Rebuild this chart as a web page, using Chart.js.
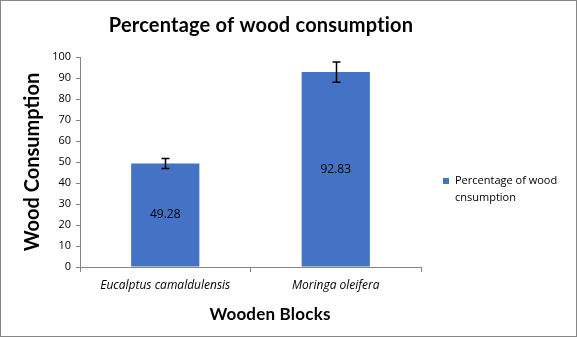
<!DOCTYPE html>
<html>
<head>
<meta charset="utf-8">
<script src="https://cdn.jsdelivr.net/npm/chart.js@4.4.1/dist/chart.umd.min.js"></script>
<style>
  html, body { margin: 0; padding: 0; background: #fff; }
  #wrap { width: 577px; height: 337px; }
</style>
</head>
<body>
<div id="wrap"><canvas id="ctx"></canvas></div>
<script>
// Data
const blocks = ['Eucalptus camaldulensis', 'Moringa oleifera'];
const consumption = [49.28, 92.83];
const errors = [2.4, 4.8];
const yTicks = [0, 10, 20, 30, 40, 50, 60, 70, 80, 90, 100];

const chartTitle = 'Percentage of wood consumption';
const xTitle = 'Wooden Blocks';
const yTitle = 'Wood Consumption';
const seriesName = ['Percentage of wood', 'cnsumption'];

const barColor = '#4472C4';
const axisColor = '#868686';
const smallFont = "'Open Sans'";
const boldFont = 'Lato';

// white background, border, title, axis title and legend
const extras = {
  id: 'extras',
  beforeDraw(chart) {
    const c = chart.ctx;
    c.save();
    c.fillStyle = '#fff';
    c.fillRect(0, 0, chart.width, chart.height);
    c.strokeStyle = axisColor;
    c.lineWidth = 1;
    c.strokeRect(0.5, 0.5, chart.width - 1, chart.height - 1);
    c.restore();
  },
  afterDraw(chart) {
    const c = chart.ctx;
    c.save();
    c.fillStyle = '#000';
    c.textAlign = 'center';
    c.textBaseline = 'middle';
    c.letterSpacing = '0.2px';
    c.font = 'bold 20px ' + boldFont;
    c.fillText(chartTitle, 261, 26);
    c.font = 'bold 17px ' + boldFont;
    c.fillText(xTitle, 270, 315);
    c.letterSpacing = '0px';

    // legend
    c.fillStyle = barColor;
    c.fillRect(443, 178, 6, 6);
    c.fillStyle = '#000';
    c.textAlign = 'left';
    c.font = '11px ' + smallFont;
    seriesName.forEach((t, i) => c.fillText(t, 455, 181 + i * 17));
    c.restore();
  }
};

// error bars and value labels on the bars
const barMarks = {
  id: 'barMarks',
  afterDatasetsDraw(chart) {
    const c = chart.ctx;
    const y = chart.scales.y;
    const meta = chart.getDatasetMeta(0);
    c.save();
    meta.data.forEach((bar, i) => {
      const v = consumption[i];
      const top = y.getPixelForValue(v + errors[i]);
      const bot = y.getPixelForValue(v - errors[i]);
      const x = Math.round(bar.x) + 0.5;
      c.strokeStyle = '#000';
      c.lineWidth = 1.5;
      c.beginPath();
      c.moveTo(x, top); c.lineTo(x, bot);
      c.moveTo(x - 4, top); c.lineTo(x + 4, top);
      c.moveTo(x - 4, bot); c.lineTo(x + 4, bot);
      c.stroke();

      c.fillStyle = '#000';
      c.font = '12px ' + smallFont;
      c.textAlign = 'center';
      c.textBaseline = 'middle';
      c.fillText(v.toFixed(2), bar.x, (bar.y + bar.base) / 2);
    });
    c.restore();
  }
};

new Chart(document.getElementById('ctx'), {
  type: 'bar',
  data: {
    labels: blocks,
    datasets: [{
      label: seriesName.join(' '),
      data: consumption,
      backgroundColor: barColor,
      barPercentage: 0.4,
      categoryPercentage: 1
    }]
  },
  options: {
    responsive: true,
    maintainAspectRatio: false,
    animation: false,
    layout: {
      padding: { top: 57, right: 156, left: 0, bottom: 0 }
    },
    plugins: {
      legend: { display: false },
      title: { display: false },
      tooltip: { enabled: false }
    },
    scales: {
      x: {
        offset: true,
        grid: {
          offset: true,
          drawOnChartArea: false,
          tickLength: 5,
          color: axisColor
        },
        border: { color: axisColor },
        ticks: {
          color: '#000',
          padding: 6,
          font: { family: smallFont, size: 12, style: 'italic' }
        },
        afterFit(scale) { scale.height = 70; }
      },
      y: {
        min: 0,
        max: 100,
        afterBuildTicks(scale) { scale.ticks = yTicks.map(v => ({ value: v })); },
        grid: {
          drawOnChartArea: false,
          tickLength: 4,
          color: axisColor
        },
        border: { color: axisColor },
        ticks: {
          color: '#000',
          padding: 5,
          font: { family: smallFont, size: 11 }
        },
        title: {
          display: true,
          text: yTitle,
          color: '#000',
          padding: { top: 21, bottom: 0 },
          font: { family: boldFont, size: 20, weight: 'bold' }
        },
        afterFit(scale) { scale.width = 80; }
      }
    }
  },
  plugins: [extras, barMarks]
});
</script>
</body>
</html>
